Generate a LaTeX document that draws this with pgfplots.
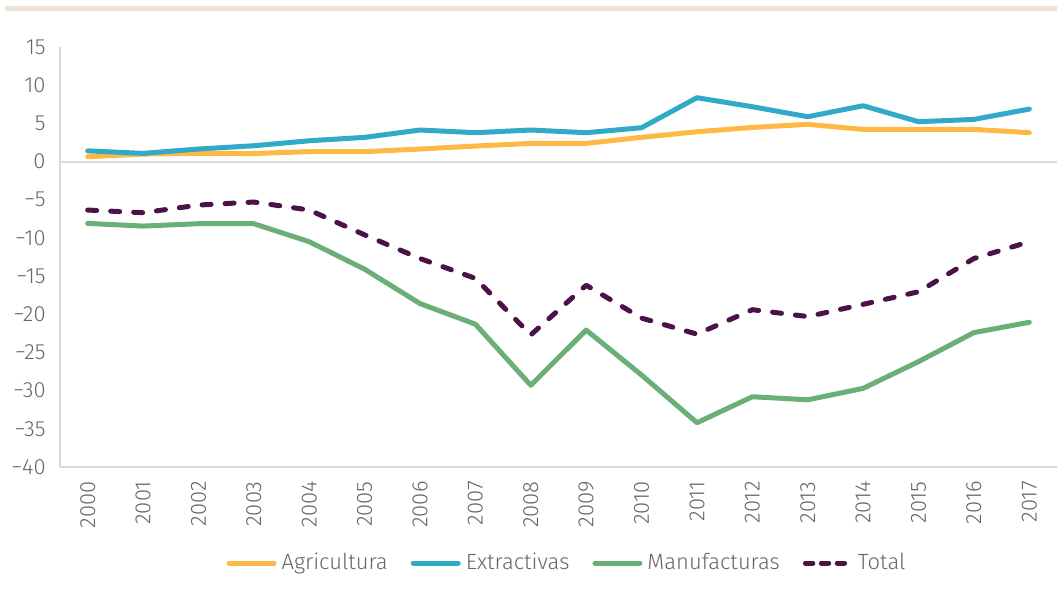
\documentclass[border=0pt]{standalone}
\usepackage{fontspec}
\setmainfont{Fira Sans}[UprightFont={* Light}]
\usepackage{pgfplots}
\pgfplotsset{compat=1.18}
\definecolor{cAgr}{HTML}{FDB944}
\definecolor{cExt}{HTML}{31AAC9}
\definecolor{cMan}{HTML}{6AAF76}
\definecolor{cTot}{HTML}{4B1248}
\definecolor{cTxt}{HTML}{666666}
\definecolor{cAx}{HTML}{D9D9D9}
\definecolor{cBeige}{HTML}{EDE3D8}
\begin{document}
\begin{tikzpicture}
\path[use as bounding box] (0,0) rectangle (528.5pt,300pt);
\fill[cBeige] (2.5pt,294.5pt) rectangle (528.5pt,297pt);
\begin{axis}[
  at={(30pt,66.5pt)}, anchor=south west,
  scale only axis, width=498.5pt, height=210pt,
  xmin=-0.5, xmax=17.5, ymin=-40, ymax=15,
  axis x line*=bottom, axis y line*=left,
  axis line style={cAx, line width=1pt},
  xtick={0,...,17},
  xticklabels={2000,2001,2002,2003,2004,2005,2006,2007,2008,2009,2010,2011,2012,2013,2014,2015,2016,2017},
  ytick={-40,-35,...,15},
  yticklabels={−40,−35,−30,−25,−20,−15,−10,−5,0,5,10,15},
  extra y ticks={0}, extra y tick labels={},
  extra y tick style={grid=major, major grid style={cAx, line width=1pt}},
  major tick length=0pt,
  tick label style={font=\fontsize{11}{13}\selectfont, text=cTxt},
  xticklabel style={rotate=90, anchor=east, inner sep=0pt},
  xticklabel shift=7pt,
  yticklabel style={anchor=east, inner sep=0pt},
  yticklabel shift=7pt,
  legend style={at={(0.5085,-0.2286)}, anchor=center, draw=none, fill=none,
    legend columns=4, font=\fontsize{11}{13}\selectfont, text=cTxt,
    /tikz/every even column/.append style={column sep=10.5pt},
    /tikz/every odd column/.append style={column sep=1.5pt},
    nodes={inner sep=1pt}},
  legend image code/.code={\draw[#1] (0pt,0pt) -- (22.5pt,0pt);},
  every axis plot/.append style={line width=2.5pt, line cap=round, line join=round},
]
\addplot[cAgr] coordinates {(0,0.63) (1,0.98) (2,1.07) (3,1.05) (4,1.3) (5,1.3) (6,1.64) (7,2.03) (8,2.38) (9,2.38) (10,3.17) (11,3.9) (12,4.47) (13,4.87) (14,4.21) (15,4.21) (16,4.21) (17,3.78)};
\addlegendentry{Agricultura}
\addplot[cExt] coordinates {(0,1.4) (1,1.07) (2,1.64) (3,2.07) (4,2.72) (5,3.17) (6,4.13) (7,3.78) (8,4.13) (9,3.78) (10,4.43) (11,8.36) (12,7.18) (13,5.87) (14,7.31) (15,5.22) (16,5.52) (17,6.87)};
\addlegendentry{Extractivas}
\addplot[cMan] coordinates {(0,-8.1) (1,-8.45) (2,-8.14) (3,-8.14) (4,-10.5) (5,-14.1) (6,-18.6) (7,-21.3) (8,-29.3) (9,-22.07) (10,-27.96) (11,-34.2) (12,-30.8) (13,-31.2) (14,-29.7) (15,-26.2) (16,-22.4) (17,-21.05)};
\addlegendentry{Manufacturas}
\addplot[cTot, dash pattern=on 4.5pt off 7pt, legend image post style={dash pattern=on 3.7pt off 4.25pt}] coordinates {(0,-6.35) (1,-6.7) (2,-5.7) (3,-5.3) (4,-6.35) (5,-9.6) (6,-12.7) (7,-15.3) (8,-22.7) (9,-16.2) (10,-20.5) (11,-22.6) (12,-19.4) (13,-20.3) (14,-18.7) (15,-17.05) (16,-12.7) (17,-10.5)};
\addlegendentry{Total}
\end{axis}
\end{tikzpicture}
\end{document}
